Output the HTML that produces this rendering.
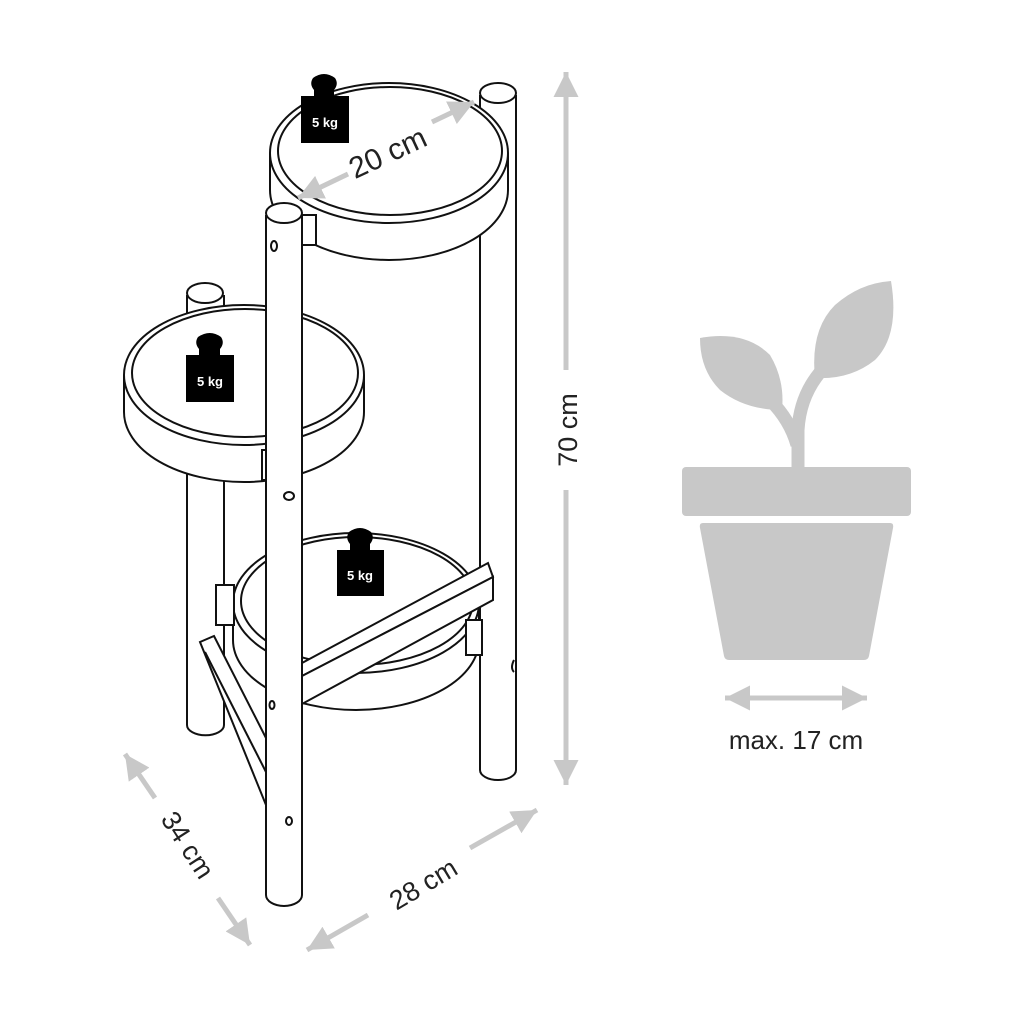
<!DOCTYPE html>
<html><head><meta charset="utf-8"><style>
html,body{margin:0;padding:0;background:#fff}
svg{display:block}
text{font-family:"Liberation Sans",sans-serif}
</style></head><body>
<svg width="1024" height="1024" viewBox="0 0 1024 1024" xmlns="http://www.w3.org/2000/svg">
<defs>
<marker id="ah" markerWidth="5" markerHeight="5" refX="5" refY="2.5" orient="auto" markerUnits="strokeWidth">
<path d="M0,0 L5,2.5 L0,5 Z" fill="#c8c8c8"/></marker>
</defs>
<g fill="#fff" stroke="#111" stroke-width="2">
<path d="M480,95 L480,770 A18,10 0 0 0 516,770 L516,95"/>
<ellipse cx="498" cy="93" rx="18" ry="10"/>
<path d="M187,295 L187,725 A18,10 0 0 0 224,725 L224,295"/>
<ellipse cx="205" cy="293" rx="18" ry="10"/>
<path d="M270,153 L270,190 A119,70 0 0 0 508,190 L508,153"/>
<ellipse cx="389" cy="153" rx="119" ry="70"/>
<ellipse cx="390" cy="151" rx="112" ry="64"/>
<rect x="300" y="215" width="16" height="30"/>
<path d="M124,375 L124,412 A120,70 0 0 0 364,412 L364,375"/>
<ellipse cx="244" cy="375" rx="120" ry="70"/>
<ellipse cx="245" cy="373" rx="113" ry="64"/>
<rect x="262" y="450" width="6" height="30"/>
<path d="M233,603 L233,640 A123,70 0 0 0 479,640 L479,603"/>
<ellipse cx="356" cy="603" rx="123" ry="70"/>
<ellipse cx="357" cy="601" rx="116" ry="64"/>
<rect x="216" y="585" width="18" height="40"/>
<rect x="466" y="620" width="16" height="35"/>
<polygon points="302,663 488,563 493,577 302,676"/>
<polygon points="302,676 493,577 493,600 302,704"/>
<polygon points="200,642 214,636 266,738 266,805"/>
<line x1="205" y1="652" x2="266" y2="772"/>
<path d="M266,215 L266,895 A18,11 0 0 0 302,895 L302,215"/>
<ellipse cx="284" cy="213" rx="18" ry="10"/>
<ellipse cx="274" cy="246" rx="3" ry="5"/>
<ellipse cx="289" cy="496" rx="5" ry="4"/>
<ellipse cx="272" cy="705" rx="2.5" ry="4"/>
<ellipse cx="289" cy="821" rx="3" ry="4"/>
<path d="M514,660 Q510,668 514,672" fill="none"/>
</g>
<g fill="#000">
<rect x="301" y="96" width="48" height="47"/><path d="M314,96 L314,90 Q309,84 313,78 Q324,70 335,78 Q339,84 334,90 L334,96Z"/>
<rect x="186" y="355" width="48" height="47"/><path d="M199,355 L199,349 Q194,343 198,337 Q210,329 221,337 Q225,343 220,349 L220,355Z"/>
<rect x="337" y="550" width="47" height="46"/><path d="M350,550 L350,544 Q345,538 349,532 Q360,524 371,532 Q375,538 370,544 L370,550Z"/>
</g>
<g fill="#fff" font-weight="bold" font-size="13" text-anchor="middle">
<text x="325" y="127">5 kg</text><text x="210" y="386">5 kg</text><text x="360" y="580">5 kg</text>
</g>
<g stroke="#c8c8c8" stroke-width="5" fill="none" marker-end="url(#ah)">
<line x1="566" y1="370" x2="566" y2="72"/>
<line x1="566" y1="490" x2="566" y2="785"/>
<line x1="432" y1="122" x2="474" y2="102"/>
<line x1="348" y1="174" x2="298" y2="198"/>
<line x1="470" y1="848" x2="537" y2="810"/>
<line x1="368" y1="915" x2="307" y2="950"/>
<line x1="155" y1="798" x2="125" y2="754"/>
<line x1="218" y1="898" x2="250" y2="945"/>
<line x1="780" y1="698" x2="867" y2="698"/>
<line x1="812" y1="698" x2="725" y2="698"/>
</g>
<g fill="#222" font-size="27">
<text x="0" y="0" text-anchor="middle" transform="translate(577,430) rotate(-90)">70 cm</text>
<text x="0" y="0" text-anchor="middle" font-size="30" transform="translate(392,162) rotate(-25)">20 cm</text>
<text x="0" y="0" text-anchor="middle" transform="translate(428,892) rotate(-31)">28 cm</text>
<text x="0" y="0" text-anchor="middle" transform="translate(180,850) rotate(57)">34 cm</text>
<text x="796" y="749" text-anchor="middle" font-size="26">max. 17 cm</text>
</g>
<g fill="#c8c8c8">
<rect x="682" y="467" width="229" height="49" rx="4"/>
<path d="M703,523 L890,523 Q894,523 893,528 L869,656 Q868,660 864,660 L729,660 Q725,660 724,656 L700,528 Q699,523 703,523Z"/>
<path d="M700,338 Q745,330 770,355 Q785,380 782,410 Q745,410 720,390 Q700,370 700,338Z"/>
<path d="M891,281 Q900,335 875,360 Q850,380 815,378 Q810,330 835,305 Q860,283 891,281Z"/>
</g>
<g stroke="#c8c8c8" stroke-width="13" fill="none">
<path d="M798,468 L798,430 Q800,395 822,370"/>
<path d="M797,445 Q790,420 770,400"/>
</g>
</svg>
</body></html>
